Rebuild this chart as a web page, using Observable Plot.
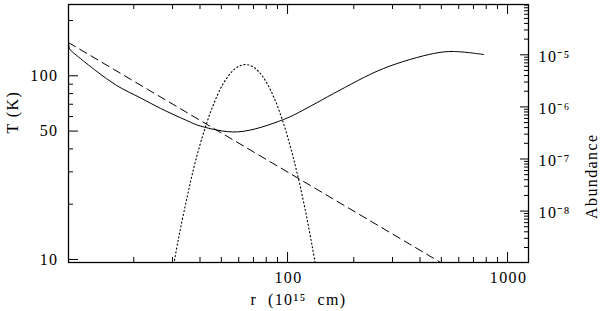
<!DOCTYPE html>
<html><head><meta charset="utf-8">
<script src="https://cdn.jsdelivr.net/npm/d3@7"></script>
<script src="https://cdn.jsdelivr.net/npm/@observablehq/plot@0.6"></script>
<style>body{margin:0;background:#fff} #chart text{letter-spacing:1.4px}</style>
</head><body><div id="chart"></div>
<script>
// Solid curve: temperature (K) vs r (10^15 cm)
const rSolid = [10.1, 10.2, 10.4, 11.0, 13.6, 16.7, 21.5, 26.5, 34.8, 40.3, 59.3, 95.9, 127, 162, 273, 461, 568, 778];
const tSolid = [151.6, 140.8, 136.5, 129, 105.5, 88.6, 75.7, 66.4, 57.1, 53.2, 49.5, 57.8, 68.3, 80.1, 109.6, 132.2, 135.6, 130.6];
// Dashed curve: power-law temperature
const rDashed = [10.1, 496];
const tDashed = [151.6, 9.64];
// Dotted curve: abundance vs r
const rDotted = [30, 32, 35, 38, 42, 46, 51, 56, 60, 64.4, 69, 74, 80, 87, 95, 104, 113, 122, 130, 136];
const aDotted = [6.9e-10, 3.1e-9, 1.9e-8, 8.5e-8, 3.7e-7, 1.1e-6, 2.8e-6, 4.8e-6, 6.0e-6, 6.5e-6, 6.0e-6, 4.75e-6, 3.0e-6, 1.47e-6, 5.4e-7, 1.48e-7, 3.6e-8, 7.9e-9, 1.9e-9, 6.5e-10];

// Tick values
const xMajor = [100, 1000];
const xMinor = [20, 30, 40, 50, 60, 70, 80, 90, 200, 300, 400, 500, 600, 700, 800, 900];
const tMajor = [10, 50, 100];
const tMinor = [20, 30, 40, 60, 70, 80, 90, 200];
const aMajor = [1e-8, 1e-7, 1e-6, 1e-5];
const aLabels = ["10\u207B\u2078", "10\u207B\u2077", "10\u207B\u2076", "10\u207B\u2075"];
const aMinor = [];
for (let e = -9; e <= -5; e++) for (let k = 2; k <= 9; k++) aMinor.push(k * 10 ** e);
aMinor.push(1e-9);

const W = 600, H = 311, mL = 68, mR = 72, mT = 4, mB = 49;
const iw = W - mL - mR, ih = H - mT - mB;
const tDom = [9.63, 244.4];
const aDom = [10 ** -8.987, 10 ** -4.0345];
const tl0 = Math.log10(tDom[0]), tl1 = Math.log10(tDom[1]);
const al0 = Math.log10(aDom[0]), al1 = Math.log10(aDom[1]);
const toT = a => 10 ** (tl0 + (Math.log10(a) - al0) * (tl1 - tl0) / (al1 - al0));

const solid = rSolid.map((r, i) => ({r, t: tSolid[i]}));
const dashed = rDashed.map((r, i) => ({r, t: tDashed[i]}));
const dotted = rDotted.map((r, i) => ({r, t: toT(aDotted[i])}));
const aMinorIn = aMinor.filter(a => a >= aDom[0] && a <= aDom[1]);
const right = aMajor.map((a, i) => ({t: toT(a), label: aLabels[i]}));

const font = "Liberation Serif";
const chart = Plot.plot({
  width: W, height: H,
  marginLeft: mL, marginRight: mR, marginTop: mT, marginBottom: mB,
  style: {fontFamily: font, fontSize: "16px", color: "black", background: "white"},
  x: {type: "log", domain: [10.1, 1245], axis: null},
  y: {type: "log", domain: tDom, axis: null},
  marks: [
    // x ticks bottom and top
    Plot.tickX(xMajor, {x: d => d, insetTop: ih - 10, stroke: "black"}),
    Plot.tickX(xMinor, {x: d => d, insetTop: ih - 5, stroke: "black"}),
    Plot.tickX(xMajor, {x: d => d, insetBottom: ih - 10, stroke: "black"}),
    Plot.tickX(xMinor, {x: d => d, insetBottom: ih - 5, stroke: "black"}),
    // left ticks
    Plot.tickY(tMajor, {y: d => d, insetRight: iw - 10, stroke: "black"}),
    Plot.tickY(tMinor, {y: d => d, insetRight: iw - 5, stroke: "black"}),
    // right ticks (abundance)
    Plot.tickY(aMajor, {y: a => toT(a), insetLeft: iw - 8, stroke: "black"}),
    Plot.tickY(aMinorIn, {y: a => toT(a), insetLeft: iw - 4, stroke: "black"}),
    // curves
    Plot.line(solid, {x: "r", y: "t", curve: "catmull-rom", stroke: "black", strokeWidth: 1, clip: true}),
    Plot.line(dashed, {x: "r", y: "t", stroke: "black", strokeWidth: 1, strokeDasharray: "8,5", clip: true}),
    Plot.line(dotted, {x: "r", y: "t", curve: "catmull-rom", stroke: "black", strokeWidth: 1.1, strokeDasharray: "1.2,2.6", clip: true}),
    Plot.frame({stroke: "black", strokeWidth: 1.3}),
    // tick labels
    Plot.text(xMajor, {x: d => d, text: d => String(d), frameAnchor: "bottom", lineAnchor: "top", dy: 9, dx: 1, fontSize: 16, fill: "black"}),
    Plot.text(tMajor, {y: d => d, text: d => String(d), frameAnchor: "left", textAnchor: "end", dx: -10, fontSize: 16, fill: "black"}),
    Plot.text(right, {y: "t", text: "label", frameAnchor: "right", textAnchor: "start", dx: 10, dy: 2, fontSize: 16, fill: "black"}),
    // axis titles
    Plot.text(["T (K)"], {frameAnchor: "left", rotate: -90, dx: -56, fontSize: 16, fill: "black"}),
    Plot.text(["Abundance"], {frameAnchor: "right", rotate: -90, dx: 63, fontSize: 16, fill: "black"}),
    Plot.text(["r  (10\u00B9\u2075  cm)"], {frameAnchor: "bottom", lineAnchor: "top", dy: 31, fontSize: 16, fill: "black"})
  ]
});
document.getElementById("chart").append(chart);
</script>
</body></html>
